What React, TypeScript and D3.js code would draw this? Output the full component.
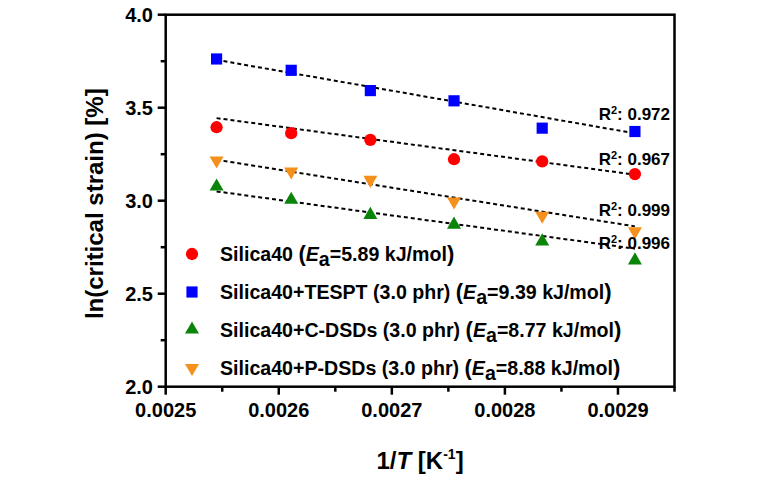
import React from "react";
import * as d3 from "d3";

const invT = [0.002545, 0.002611, 0.002681, 0.002755, 0.002833, 0.002915];
const silica40 = [3.395, 3.363, 3.327, 3.223, 3.211, 3.143];
const tespt = [3.762, 3.701, 3.592, 3.537, 3.39, 3.372];
const cdsds = [3.076, 3.005, 2.924, 2.871, 2.781, 2.679];
const pdsds = [3.216, 3.157, 3.112, 2.996, 2.919, 2.835];

// fitted line endpoints (at first and last 1/T)
const fitStart = [3.444, 3.757, 3.05, 3.22];
const fitEnd = [3.14, 3.362, 2.742, 2.862];

const seriesNames = ["Silica40", "Silica40+TESPT (3.0 phr)", "Silica40+C-DSDs (3.0 phr)", "Silica40+P-DSDs (3.0 phr)"];
const eaValues = ["5.89", "9.39", "8.77", "8.88"];
const r2Labels = ["0.967", "0.972", "0.996", "0.999"];
const r2Pos = [164.5, 119.5, 248.5, 215.5];
const colors = ["#ff0000", "#0000ff", "#0a850a", "#f5901c"];
const symbolTypes = [d3.symbolCircle, d3.symbolSquare, d3.symbolTriangle, d3.symbolTriangle];
const symbolSizes = [118, 125, 85, 85];
const rotations = [0, 0, 0, 180];
const allSeries = [silica40, tespt, cdsds, pdsds];

const xMajor = [0.0025, 0.0026, 0.0027, 0.0028, 0.0029];
const xMinor = [0.00255, 0.00265, 0.00275, 0.00285, 0.00295];
const yMajor = [2.0, 2.5, 3.0, 3.5, 4.0];
const yMinor = [2.25, 2.75, 3.25, 3.75];

const FONT = "Arial, 'Liberation Sans', Helvetica, sans-serif";

export default function App() {
  const W = 778, H = 497;
  const left = 165.7, right = 674.5, top = 14.7, bottom = 386.7;
  const x = d3.scaleLinear().domain([0.0025, 0.00295]).range([left, right]);
  const y = d3.scaleLinear().domain([2, 4]).range([bottom, top]);
  const sym = (i: number) => d3.symbol().type(symbolTypes[i]).size(symbolSizes[i])() as string;
  const legendY = [254, 292, 329.5, 368];

  return (
    <div style={{ position: "absolute", left: 0, top: 0 }}>
      <svg width={W} height={H} style={{ display: "block", background: "#fff" }} fontFamily={FONT}>
        {/* fit lines */}
        {fitStart.map((s, i) => (
          <line key={"fit" + i} x1={x(invT[0])} y1={y(s)} x2={x(invT[invT.length - 1])} y2={y(fitEnd[i])}
            stroke="#000" strokeWidth={2} strokeDasharray="4,3" />
        ))}
        {/* points */}
        {allSeries.map((ser, i) =>
          ser.map((v, j) => (
            <path key={`p${i}-${j}`} d={sym(i)} fill={colors[i]}
              transform={`translate(${x(invT[j])},${y(v)}) rotate(${rotations[i]})`} />
          ))
        )}
        {/* R2 labels */}
        {r2Labels.map((r, i) => (
          <text key={"r" + i} x={670} y={r2Pos[i]} textAnchor="end" fontSize={17} fontWeight="bold" fill="#000">
            R<tspan fontSize={11} dy={-6}>2</tspan><tspan dy={6}>: {r}</tspan>
          </text>
        ))}
        {/* frame */}
        <rect x={left} y={top} width={right - left} height={bottom - top} fill="none" stroke="#000" strokeWidth={2.5} />
        {/* x ticks */}
        {xMajor.map((t) => (
          <g key={"xt" + t}>
            <line x1={x(t)} x2={x(t)} y1={bottom} y2={bottom + 8} stroke="#000" strokeWidth={2.5} />
            <text x={x(t)} y={416.5} textAnchor="middle" fontSize={20} fontWeight="bold">{t.toFixed(4)}</text>
          </g>
        ))}
        {xMinor.map((t) => (
          <line key={"xm" + t} x1={x(t)} x2={x(t)} y1={bottom} y2={bottom + 5} stroke="#000" strokeWidth={2.5} />
        ))}
        {/* y ticks */}
        {yMajor.map((t) => (
          <g key={"yt" + t}>
            <line x1={left - 8} x2={left} y1={y(t)} y2={y(t)} stroke="#000" strokeWidth={2.5} />
            <text x={153} y={y(t) + 7} textAnchor="end" fontSize={20} fontWeight="bold">{t.toFixed(1)}</text>
          </g>
        ))}
        {yMinor.map((t) => (
          <line key={"ym" + t} x1={left - 5} x2={left} y1={y(t)} y2={y(t)} stroke="#000" strokeWidth={2.5} />
        ))}
        {/* axis titles */}
        <text transform={`translate(103,${(top + bottom) / 2 + 3}) rotate(-90)`} textAnchor="middle" fontSize={24} fontWeight="bold">
          ln(critical strain) [%]
        </text>
        <text x={(left + right) / 2} y={469} textAnchor="middle" fontSize={24} fontWeight="bold">
          1/<tspan fontStyle="italic">T</tspan> [K<tspan fontSize={14} dy={-10}>-1</tspan><tspan dy={10}>]</tspan>
        </text>
        {/* legend */}
        {seriesNames.map((n, i) => (
          <g key={"lg" + i}>
            <path d={sym(i)} fill={colors[i]} transform={`translate(192,${legendY[i]}) rotate(${rotations[i]})`} />
            <text x={220} y={legendY[i] + 7} fontSize={19.6} fontWeight="bold">
              {n} <tspan fontSize={22}>(</tspan><tspan fontStyle="italic">E</tspan>
              <tspan dy={5}>a</tspan><tspan dy={-5}>={eaValues[i]} kJ/mol</tspan><tspan fontSize={22}>)</tspan>
            </text>
          </g>
        ))}
      </svg>
    </div>
  );
}
